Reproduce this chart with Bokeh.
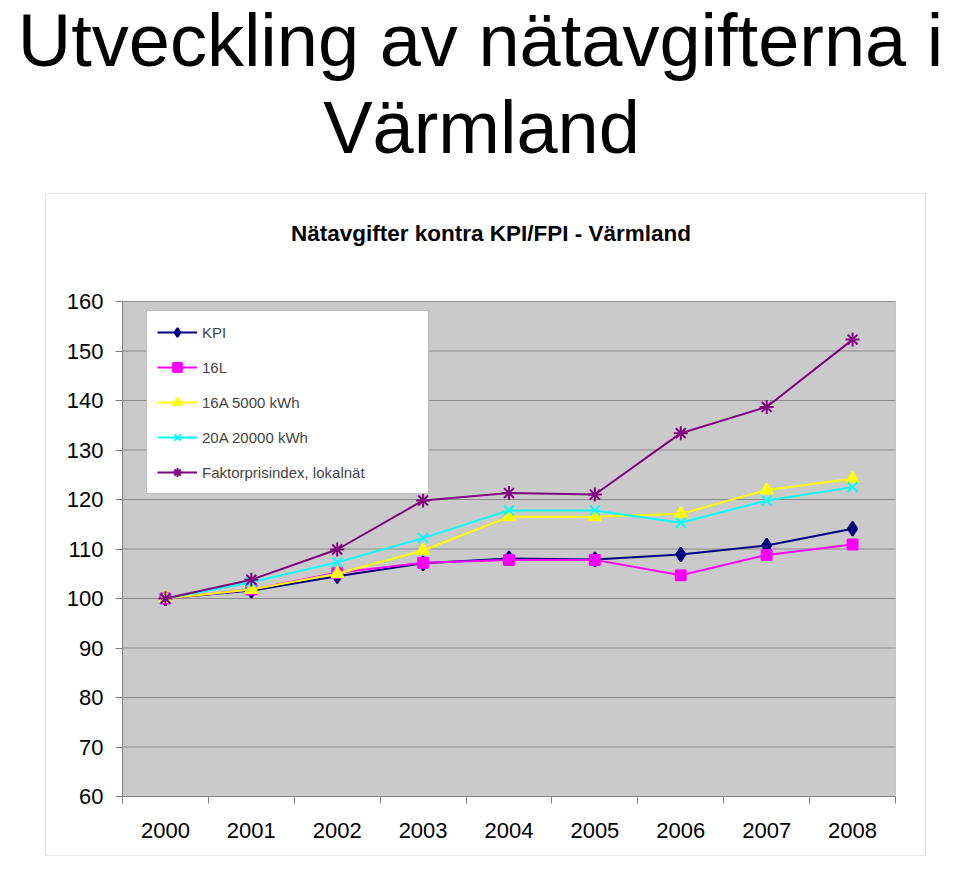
from bokeh.plotting import figure
from bokeh.models import (Label, BoxAnnotation, Legend, LegendItem, FixedTicker,
                          Range1d, ColumnDataSource)
from bokeh.core.properties import value
from bokeh.embed import file_html
from bokeh.resources import INLINE

# ---- data ----
years = [2000, 2001, 2002, 2003, 2004, 2005, 2006, 2007, 2008]
kpi = [100.0, 101.6, 104.5, 107.1, 108.1, 107.9, 108.9, 110.7, 114.1]
l16 = [100.0, 101.8, 105.2, 107.2, 107.8, 107.8, 104.7, 108.8, 110.9]
a16_5000 = [100.0, 101.8, 105.0, 109.7, 116.5, 116.5, 117.1, 121.9, 124.2]
a20_20000 = [100.0, 103.3, 107.3, 112.2, 117.8, 117.8, 115.3, 119.8, 122.5]
fpi = [100.0, 103.8, 109.9, 119.8, 121.3, 121.0, 133.4, 138.7, 152.3]
y_ticks = [60, 70, 80, 90, 100, 110, 120, 130, 140, 150, 160]

main_title = ["Utveckling av nätavgifterna i", "Värmland"]
chart_title = "Nätavgifter kontra KPI/FPI - Värmland"
series_names = ["KPI", "16L", "16A 5000 kWh", "20A 20000 kWh", "Faktorprisindex, lokalnät"]

# ---- layout constants (pixels on the canvas) ----
W, H = 944, 856
PLOT_L, PLOT_R, PLOT_T, PLOT_B = 122, 895, 301, 796
X0, X1 = years[0] - 0.5, years[-1] + 0.5
Y0, Y1 = y_ticks[0], y_ticks[-1]


def px2x(px):
    return X0 + (px - PLOT_L) * (X1 - X0) / (PLOT_R - PLOT_L)


def px2y(py):
    return Y0 + (PLOT_B - py) * (Y1 - Y0) / (PLOT_B - PLOT_T)


FONT = "Liberation Sans"

src = ColumnDataSource(dict(year=years, kpi=kpi, l16=l16, a16=a16_5000,
                            a20=a20_20000, fpi=fpi))

p = figure(width=W, height=H,
           x_range=Range1d(px2x(0), px2x(W)),
           y_range=Range1d(px2y(H), px2y(0)),
           output_backend="svg", toolbar_location=None, min_border=0)
p.background_fill_color = "white"
p.border_fill_color = "white"
p.outline_line_color = None
p.xgrid.visible = False
p.ygrid.visible = False

# outer chart box and grey plot area
p.add_layout(BoxAnnotation(left=px2x(45), right=px2x(925), top=px2y(193),
                           bottom=px2y(855), fill_color="white", fill_alpha=1,
                           line_color="#aaaaaa", line_width=1, level="underlay"))
p.add_layout(BoxAnnotation(left=X0, right=X1, top=Y1, bottom=Y0,
                           fill_color="#CACACA", fill_alpha=1,
                           line_color="#808080", line_width=1, level="underlay"))

# horizontal grid lines inside the plot area
p.segment(x0=[X0] * len(y_ticks), y0=y_ticks, x1=[X1] * len(y_ticks), y1=y_ticks,
          line_color="#8a8a8a", line_width=1)

# axes fixed at the plot area edges
bounds = [X0 + i for i in range(len(years) + 1)]
xa = p.xaxis[0]
xa.fixed_location = Y0
xa.bounds = (X0, X1)
xa.ticker = FixedTicker(ticks=years, minor_ticks=bounds)
xa.major_label_overrides = {y: str(y) for y in years}
xa.major_tick_out = 0
xa.major_tick_in = 0
xa.minor_tick_out = 7
xa.minor_tick_in = 0
xa.minor_tick_line_color = "#808080"
xa.major_label_standoff = 19

ya = p.yaxis[0]
ya.fixed_location = X0
ya.bounds = (Y0, Y1)
ya.ticker = FixedTicker(ticks=y_ticks)
ya.major_tick_out = 7
ya.major_tick_in = 0
ya.minor_tick_out = 0
ya.minor_tick_in = 0
ya.major_label_standoff = 12

for ax in (xa, ya):
    ax.axis_line_color = "#808080"
    ax.major_tick_line_color = "#808080"
    ax.major_label_text_font = FONT
    ax.major_label_text_font_size = "22px"
    ax.major_label_text_color = "black"

# ---- series ----
specs = [
    ("kpi", "#000080", "diamond", 14),
    ("l16", "#FF00FF", "square", 10),
    ("a16", "#FFFF00", "triangle", 12),
    ("a20", "#00FFFF", "x", 14),
    ("fpi", "#800080", "asterisk", 14),
]
items = []
for (col, color, marker, size), name in zip(specs, series_names):
    rl = p.line("year", col, source=src, line_color=color, line_width=2)
    rm = p.scatter("year", col, source=src, marker=marker, size=size,
                   fill_color=color, line_color=color, line_width=2)
    items.append(LegendItem(label=name, renderers=[rl, rm]))

legend = Legend(items=items, location=(146, H - 494), padding=10, spacing=13,
                glyph_width=40, glyph_height=22, label_height=22,
                label_width=216, label_standoff=5,
                label_text_font=FONT, label_text_font_size="15px",
                border_line_color="#808080", border_line_width=1,
                background_fill_color="white", background_fill_alpha=1.0)
p.add_layout(legend)

# ---- titles ----
p.add_layout(Label(x=px2x(490.5), y=px2y(233), text=chart_title,
                   text_align="center", text_baseline="alphabetic",
                   text_font=FONT, text_font_style="bold",
                   text_font_size="22.5px", text_color="black"))
p.add_layout(Label(x=px2x(481), y=px2y(127), text=main_title[1],
                   text_align="center", text_baseline="alphabetic",
                   text_font=FONT, text_font_size="74px", text_color="black"))
p.add_layout(Label(x=px2x(480), y=px2y(40), text=main_title[0],
                   text_align="center", text_baseline="alphabetic",
                   text_font=FONT, text_font_size="74px", text_color="black"))

open("out.html", "w").write(file_html(p, INLINE))
